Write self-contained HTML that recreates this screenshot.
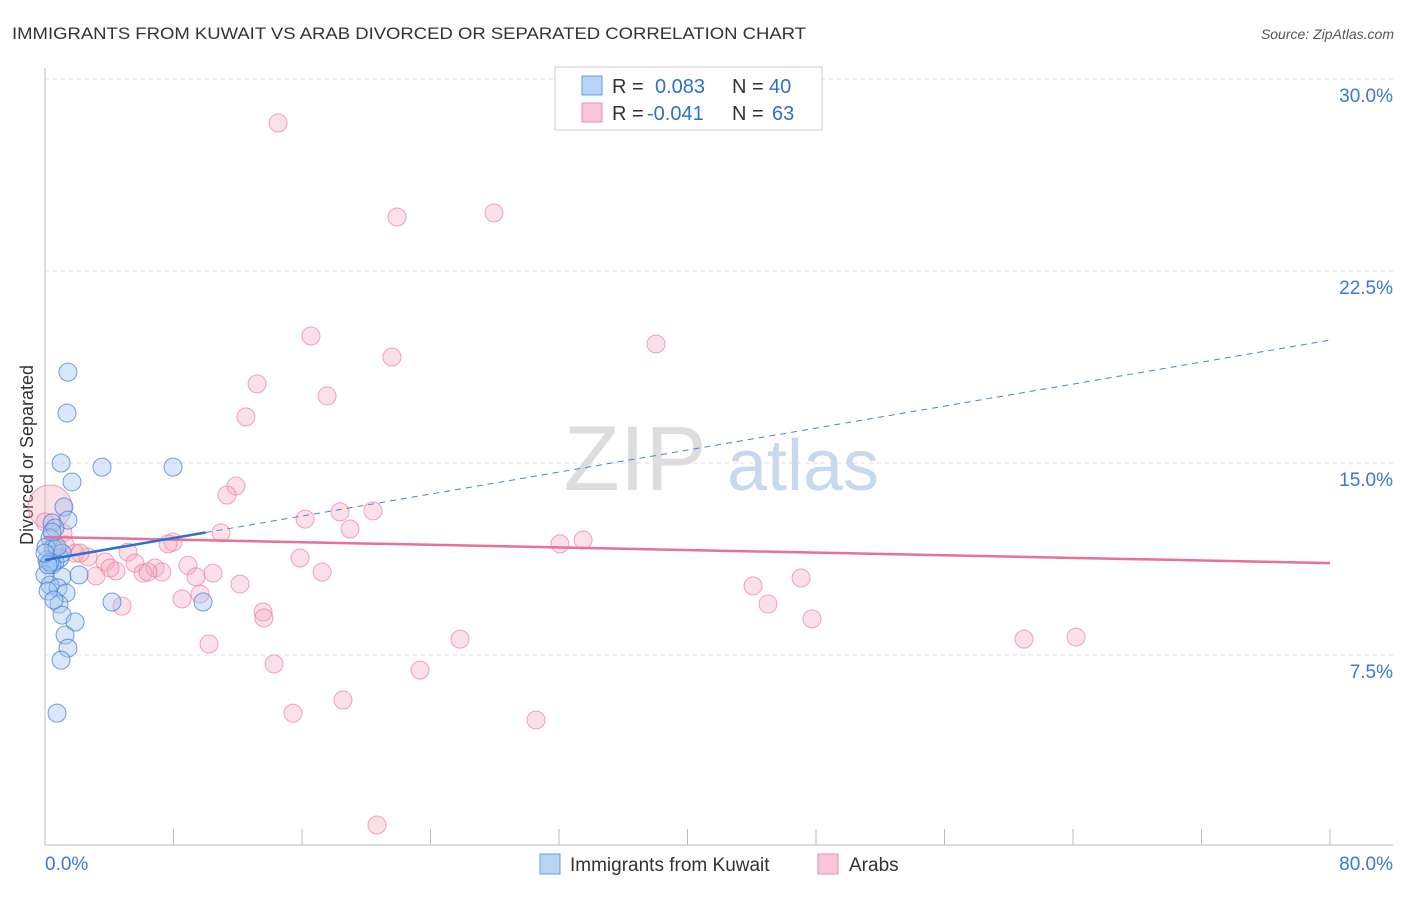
<!DOCTYPE html>
<html><head><meta charset="utf-8"><style>
body{margin:0;background:#fff;font-family:"Liberation Sans",sans-serif}
svg text{font-family:"Liberation Sans",sans-serif}
</style></head><body>
<svg id="c" width="1406" height="892" xmlns="http://www.w3.org/2000/svg">
<text x="12" y="39" font-size="17" fill="#333" textLength="794" lengthAdjust="spacingAndGlyphs">IMMIGRANTS FROM KUWAIT VS ARAB DIVORCED OR SEPARATED CORRELATION CHART</text>
<text x="1394" y="39" font-size="14" fill="#555" font-style="italic" text-anchor="end">Source: ZipAtlas.com</text>
<g><text x="635" y="490" font-size="92" fill="#ddd" font-family="Liberation Serif" text-anchor="middle">ZIP</text><text x="803" y="490" font-size="72" fill="#c8d8ee" text-anchor="middle">atlas</text></g>
<g id="grid"></g>
<g id="axes"></g>
<text transform="translate(33,455) rotate(-90)" font-size="18" fill="#333" text-anchor="middle">Divorced or Separated</text>
<g id="marks"></g>
<g>
<rect x="555" y="67" width="267" height="63" fill="#fff" stroke="#ccc"/>
<rect x="582" y="76" width="20" height="19" fill="#b9d3f5" stroke="#6b9be0"/>
<rect x="582" y="103" width="20" height="19" fill="#f8c6d5" stroke="#e891ad"/>
<text y="93" font-size="20" fill="#333"><tspan x="612">R =</tspan><tspan x="655" fill="#2f6fd0">0.083</tspan><tspan x="732">N =</tspan><tspan x="769" fill="#2f6fd0">40</tspan></text>
<text y="120" font-size="20" fill="#333"><tspan x="612">R =</tspan><tspan x="647" fill="#2f6fd0">-0.041</tspan><tspan x="732">N =</tspan><tspan x="772" fill="#2f6fd0">63</tspan></text>
</g>
<g>
<rect x="540" y="854" width="20" height="20" fill="#b9d3f5" stroke="#6b9be0"/>
<text x="570" y="871" font-size="19" fill="#333">Immigrants from Kuwait</text>
<rect x="818" y="854" width="20" height="20" fill="#f8c6d5" stroke="#e891ad"/>
<text x="849" y="871" font-size="19" fill="#333">Arabs</text>
</g>
</svg>
<script>
const yTicks=[7.5,15,22.5,30];
const yTickLabels=["7.5%","15.0%","22.5%","30.0%"];
const xTicks=[0,8,16,24,32,40,48,56,64,72,80];
const kuwaitX=[1.43,1.37,1.0,3.55,7.97,1.68,1.18,1.43,0.44,0.62,0.31,0.5,0.93,0.12,0.62,0.44,1.06,0,1.06,2.12,0.31,0.81,1.31,4.17,9.84,0.87,1.06,1.87,1.25,1.43,1.0,0.75,0.19,0.56,0.06,0.75,0.31,0.19,0,0.44];
const kuwaitY=[18.55,16.95,15.0,14.84,14.84,14.26,13.28,12.77,12.66,12.46,12.07,11.68,11.29,11.21,11.13,11.02,11.48,10.63,10.55,10.63,10.23,10.12,9.92,9.57,9.57,9.49,9.06,8.79,8.28,7.77,7.3,5.23,10.0,9.65,11.72,11.72,11.13,11.02,11.48,12.3];
const arabX=[14.51,21.92,27.95,16.56,21.6,38.04,13.2,17.56,12.51,11.89,11.33,20.42,18.37,16.19,18.99,10.96,33.5,32.06,7.97,7.66,1.12,1.25,5.17,15.88,1.87,2.68,3.74,5.6,6.85,4.42,6.1,7.28,8.9,10.46,9.4,3.18,17.25,12.14,47.07,44.08,9.65,8.53,4.79,45.01,13.57,13.63,47.75,10.21,25.84,60.95,64.19,14.26,23.35,15.44,18.55,30.57,20.67,0.31,0.62,2.18,4.05,6.41,0];
const arabY=[28.28,24.61,24.77,19.96,19.14,19.65,18.09,17.62,16.8,14.1,13.75,13.13,13.09,12.81,12.42,12.27,11.99,11.84,11.91,11.84,12.27,11.8,11.52,11.29,11.48,11.33,11.13,11.09,10.9,10.78,10.7,10.74,11.0,10.7,10.55,10.59,10.74,10.27,10.51,10.2,9.88,9.69,9.41,9.49,9.18,8.95,8.91,7.93,8.12,8.12,8.2,7.15,6.91,5.23,5.74,4.96,0.86,13.28,11.72,11.48,10.9,10.74,12.7];
const kuwaitTrend=[11.21,19.8];
const arabTrend=[12.11,11.09];
const NS="http://www.w3.org/2000/svg";
const X=v=>45+v*1285/80, Y=v=>847-v*192/7.5;
function mk(p,t,a){const e=document.createElementNS(NS,t);for(const k in a)e.setAttribute(k,a[k]);p.appendChild(e);return e;}
const grid=document.getElementById('grid'),axes=document.getElementById('axes'),marks=document.getElementById('marks');
yTicks.forEach((t,i)=>{
 const l=mk(grid,'line',{x1:45,x2:1393,y1:Y(t),y2:Y(t),stroke:'#ddd','stroke-dasharray':'4,4'});
 
 
 const tx=mk(axes,'text',{x:1393,y:Y(t)+23,'font-size':19,fill:'#3a78d4','text-anchor':'end'});
 tx.textContent=yTickLabels[i];
 
 
});
const ax=mk(axes,'line',{x1:45,x2:1393,y1:845,y2:845,stroke:'#bbb'});


const ay=mk(axes,'line',{x1:45,x2:45,y1:68,y2:845,stroke:'#bbb'});


xTicks.forEach(t=>{
 const l=mk(axes,'line',{x1:X(t),x2:X(t),y1:829,y2:845,stroke:'#bbb'});
 
 
});
const x0=mk(axes,'text',{x:45,y:870,'font-size':19,fill:'#3a78d4'});x0.textContent="0.0%";


const x1=mk(axes,'text',{x:1393,y:870,'font-size':19,fill:'#3a78d4','text-anchor':'end'});x1.textContent="80.0%";


arabX.forEach((v,i)=>{
 const r=(i===57)?22:9;
 const c=mk(marks,'circle',{cx:X(v),cy:Y(arabY[i]),r:r,fill:'rgba(244,167,190,0.35)',stroke:'rgba(230,120,155,0.65)','stroke-width':1});
 
 
});
kuwaitX.forEach((v,i)=>{
 const c=mk(marks,'circle',{cx:X(v),cy:Y(kuwaitY[i]),r:9,fill:'rgba(160,195,240,0.4)',stroke:'rgba(60,120,210,0.7)','stroke-width':1});
 
 
});
const at=mk(marks,'line',{x1:X(0),y1:Y(arabTrend[0]),x2:X(80),y2:Y(arabTrend[1]),stroke:'#e8709a','stroke-width':2.5});


const k10=kuwaitTrend[0]+(kuwaitTrend[1]-kuwaitTrend[0])*10/80;
const kt=mk(marks,'line',{x1:X(0),y1:Y(kuwaitTrend[0]),x2:X(10),y2:Y(k10),stroke:'#2f6fd0','stroke-width':2.5});


const kd=mk(marks,'line',{x1:X(10),y1:Y(k10),x2:X(80),y2:Y(kuwaitTrend[1]),stroke:'#4a82d6','stroke-width':1,'stroke-dasharray':'6,5'});


</script>
</body></html>
